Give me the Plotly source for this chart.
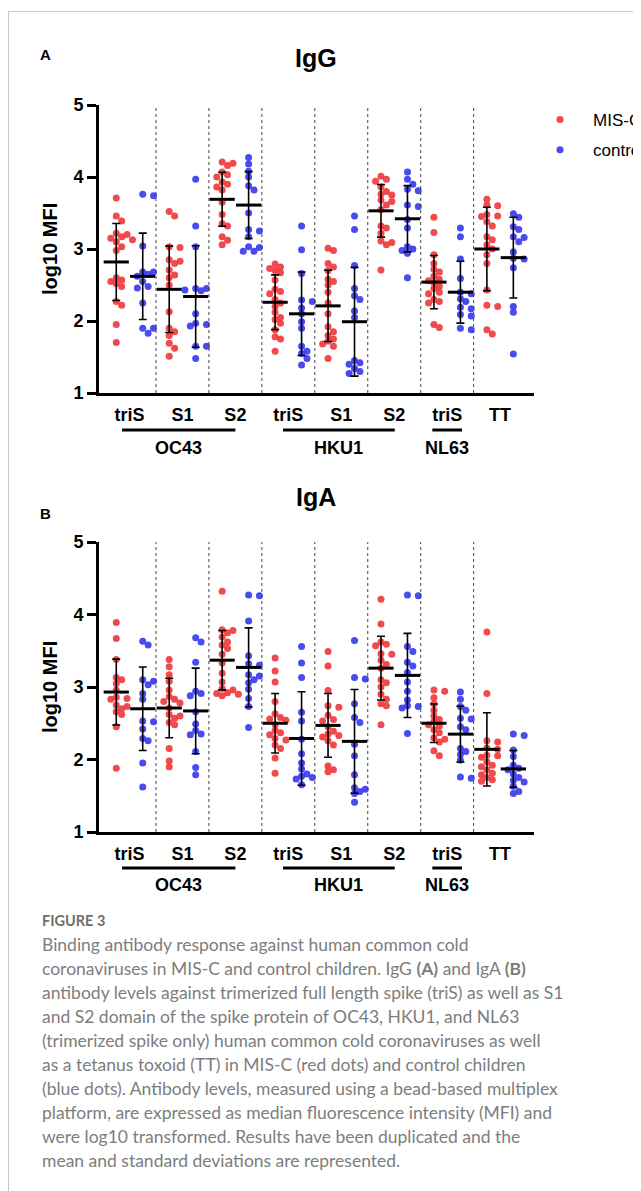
import plotly.graph_objects as go

W, H = 641, 1191

CATEGORIES = ["triS", "S1", "S2", "triS", "S1", "S2", "triS", "TT"]
VIRUSES = ["OC43", "HKU1", "NL63"]

# log10 MFI per column (MIS-C = red, control = blue)
IGG_MISC = [
    [3.71, 3.46, 3.39, 3.22, 3.20, 3.17, 3.15, 3.13, 3.10, 3.03, 2.98, 2.60, 2.57, 2.55, 2.52, 2.48, 2.27, 2.22, 1.95, 1.70],
    [3.52, 3.46, 3.03, 3.02, 2.85, 2.83, 2.80, 2.71, 2.64, 2.60, 2.50, 2.13, 1.90, 1.85, 1.80, 1.69, 1.62, 1.51],
    [4.21, 4.19, 4.16, 4.07, 4.03, 4.00, 3.93, 3.90, 3.86, 3.82, 3.65, 3.48, 3.35, 3.32, 3.17, 3.12, 3.06],
    [2.79, 2.75, 2.73, 2.70, 2.67, 2.57, 2.44, 2.41, 2.38, 2.30, 2.25, 2.20, 2.12, 2.05, 2.02, 1.97, 1.88, 1.78, 1.75, 1.58],
    [3.01, 2.98, 2.80, 2.75, 2.70, 2.58, 2.55, 2.50, 2.40, 2.25, 2.10, 1.92, 1.85, 1.80, 1.75, 1.72, 1.68, 1.65, 1.48],
    [4.01, 3.97, 3.94, 3.86, 3.80, 3.76, 3.75, 3.68, 3.66, 3.61, 3.55, 3.32, 3.29, 3.22, 3.11, 3.09, 3.06, 2.71],
    [3.44, 3.23, 2.92, 2.80, 2.72, 2.68, 2.62, 2.58, 2.56, 2.53, 2.48, 2.45, 2.40, 2.38, 2.30, 2.27, 2.25, 1.95, 1.91],
    [3.69, 3.61, 3.60, 3.48, 3.46, 3.45, 3.38, 3.32, 3.17, 3.13, 3.06, 3.00, 2.92, 2.80, 2.43, 2.22, 2.20, 1.88, 1.82],
]
IGG_CTRL = [
    [3.76, 3.74, 3.04, 2.68, 2.68, 2.65, 2.62, 2.55, 2.48, 2.46, 2.25, 1.90, 1.90, 1.83],
    [3.97, 3.32, 3.03, 2.45, 2.45, 2.43, 2.42, 2.10, 1.97, 1.95, 1.93, 1.65, 1.65, 1.48],
    [4.27, 4.18, 4.08, 4.00, 3.88, 3.82, 3.50, 3.27, 3.25, 3.17, 3.03, 3.02, 2.97, 2.97],
    [3.32, 2.99, 2.66, 2.29, 2.27, 2.18, 2.10, 1.99, 1.90, 1.65, 1.58, 1.55, 1.48, 1.39],
    [3.46, 3.27, 2.77, 2.45, 2.35, 2.30, 2.14, 2.05, 1.45, 1.42, 1.40, 1.34, 1.30, 1.27],
    [4.07, 3.97, 3.90, 3.83, 3.81, 3.61, 3.59, 3.41, 3.29, 3.03, 3.00, 2.98, 2.94, 2.60],
    [3.29, 3.17, 2.86, 2.59, 2.40, 2.38, 2.31, 2.27, 2.19, 2.17, 2.09, 2.07, 1.90, 1.88],
    [3.49, 3.44, 3.31, 3.27, 3.17, 3.16, 3.10, 2.96, 2.87, 2.86, 2.74, 2.20, 2.12, 1.54],
]
IGA_MISC = [
    [3.89, 3.67, 3.38, 3.13, 3.10, 3.05, 2.96, 2.86, 2.84, 2.83, 2.75, 2.73, 2.70, 2.66, 2.62, 2.45, 1.88],
    [3.38, 3.28, 3.17, 3.08, 2.96, 2.87, 2.83, 2.80, 2.78, 2.71, 2.62, 2.60, 2.57, 2.51, 2.48, 2.15, 1.98, 1.90],
    [4.32, 3.79, 3.78, 3.75, 3.69, 3.62, 3.58, 3.53, 3.45, 3.33, 3.19, 3.07, 2.98, 2.96, 2.92, 2.91, 2.90, 2.88],
    [3.40, 3.22, 3.07, 2.80, 2.63, 2.58, 2.56, 2.54, 2.48, 2.40, 2.37, 2.34, 2.29, 2.27, 2.20, 2.15, 2.02, 1.81],
    [3.49, 3.29, 2.95, 2.74, 2.72, 2.61, 2.55, 2.53, 2.45, 2.39, 2.35, 2.33, 2.31, 2.26, 2.20, 1.91, 1.86, 1.83],
    [4.21, 3.87, 3.62, 3.59, 3.57, 3.46, 3.45, 3.37, 3.31, 3.26, 3.10, 3.06, 3.00, 2.90, 2.83, 2.77, 2.74, 2.48],
    [2.96, 2.94, 2.85, 2.77, 2.68, 2.60, 2.55, 2.52, 2.48, 2.46, 2.41, 2.37, 2.30, 2.28, 2.24, 2.12, 2.05],
    [3.76, 2.91, 2.26, 2.24, 2.16, 2.14, 2.06, 2.05, 2.03, 1.97, 1.92, 1.90, 1.86, 1.81, 1.79, 1.75, 1.72, 1.70],
]
IGA_CTRL = [
    [3.63, 3.58, 3.10, 3.08, 3.03, 2.91, 2.83, 2.53, 2.52, 2.42, 2.29, 2.26, 1.95, 1.62],
    [3.68, 3.62, 3.34, 2.94, 2.91, 2.88, 2.66, 2.49, 2.40, 2.35, 2.34, 2.11, 1.89, 1.79],
    [4.27, 4.26, 3.91, 3.43, 3.32, 3.30, 3.17, 3.15, 3.10, 3.06, 2.97, 2.84, 2.73, 2.44],
    [3.56, 3.33, 3.13, 2.65, 2.53, 2.28, 2.08, 1.95, 1.87, 1.80, 1.77, 1.75, 1.73, 1.65],
    [3.64, 3.13, 3.11, 2.77, 2.58, 2.51, 2.21, 2.05, 1.79, 1.61, 1.59, 1.56, 1.53, 1.41],
    [4.27, 4.26, 3.56, 3.49, 3.34, 3.29, 3.20, 3.07, 2.94, 2.82, 2.74, 2.73, 2.71, 2.36],
    [2.93, 2.83, 2.73, 2.68, 2.57, 2.56, 2.45, 2.41, 2.15, 2.11, 2.07, 1.99, 1.76, 1.74],
    [2.35, 2.33, 2.13, 2.04, 1.92, 1.88, 1.86, 1.80, 1.75, 1.71, 1.69, 1.63, 1.56, 1.53],
]

# mean and SD drawn on the figure
IGG_MISC_MEAN = [2.82, 2.44, 3.69, 2.26, 2.21, 3.53, 2.54, 3.00]
IGG_MISC_SD = [0.535, 0.60, 0.375, 0.38, 0.495, 0.365, 0.37, 0.58]
IGG_CTRL_MEAN = [2.62, 2.34, 3.61, 2.10, 1.99, 3.42, 2.40, 2.88]
IGG_CTRL_SD = [0.60, 0.705, 0.465, 0.58, 0.755, 0.46, 0.43, 0.56]
IGA_MISC_MEAN = [2.93, 2.71, 3.37, 2.50, 2.47, 3.26, 2.50, 2.14]
IGA_MISC_SD = [0.455, 0.41, 0.41, 0.41, 0.44, 0.44, 0.265, 0.505]
IGA_CTRL_MEAN = [2.70, 2.67, 3.27, 2.29, 2.25, 3.16, 2.35, 1.87]
IGA_CTRL_SD = [0.575, 0.59, 0.545, 0.645, 0.715, 0.58, 0.385, 0.255]

CAPTION = [
    "Binding antibody response against human common cold",
    "coronaviruses in MIS-C and control children. IgG <b>(A)</b> and IgA <b>(B)</b>",
    "antibody levels against trimerized full length spike (triS) as well as S1",
    "and S2 domain of the spike protein of OC43, HKU1, and NL63",
    "(trimerized spike only) human common cold coronaviruses as well",
    "as a tetanus toxoid (TT) in MIS-C (red dots) and control children",
    "(blue dots). Antibody levels, measured using a bead-based multiplex",
    "platform, are expressed as median fluorescence intensity (MFI) and",
    "were log10 transformed. Results have been duplicated and the",
    "mean and standard deviations are represented.",
]

RED = "#F03B3E"
BLUE = "#3B3BF0"
BOLD = "Liberation Sans, Arial, sans-serif"
CAP_FONT = "Lato, sans-serif"

# page places the plot 8px in (body margin), so layout pixels are shifted by that
PAGE_OFF = 8
X_LEFT, X_RIGHT = 99, 534
X_RANGE = [-0.576, 7.64]
PX_X = (X_RIGHT - X_LEFT) / (X_RANGE[1] - X_RANGE[0])
OFFSET = 0.25
# virus underline extents in category units
SPANS = [(-0.14, 2.0), (2.9, 5.01), (5.72, 6.28)]


def px(x):
    return (x - PAGE_OFF) / W


def py(y):
    return 1 - (y - PAGE_OFF) / H


def swarm(values, center, px_y, d=5.6, step=5.4):
    # simple beeswarm: nudge each dot sideways until it clears the others
    placed, xs = [], []
    cands = [0.0]
    for j in range(1, 12):
        cands += [j * step, -j * step]
    for v in values:
        yp = v * px_y
        off = cands[-1]
        for c in cands:
            if all((c - ox) ** 2 + (yp - oy) ** 2 >= d * d for ox, oy in placed):
                off = c
                break
        placed.append((off, yp))
        xs.append(center + off / PX_X)
    return xs


def label(text, x, y, size, xref="paper", **kw):
    d = dict(text=text, xref=xref, yref="paper", x=x, y=y, showarrow=False,
             xanchor="center", yanchor="middle",
             font=dict(family=BOLD, size=size, color="black", weight="bold"))
    d.update(kw)
    return d


panels = [
    dict(letter="A", title="IgG", misc=IGG_MISC, ctrl=IGG_CTRL,
         misc_mean=IGG_MISC_MEAN, misc_sd=IGG_MISC_SD, ctrl_mean=IGG_CTRL_MEAN, ctrl_sd=IGG_CTRL_SD,
         top=105, bottom=393, letter_y=55, title_y=58, line_y=430, label_y=448),
    dict(letter="B", title="IgA", misc=IGA_MISC, ctrl=IGA_CTRL,
         misc_mean=IGA_MISC_MEAN, misc_sd=IGA_MISC_SD, ctrl_mean=IGA_CTRL_MEAN, ctrl_sd=IGA_CTRL_SD,
         top=542, bottom=832, letter_y=513, title_y=497, line_y=868, label_y=885),
]

fig = go.Figure()
shapes = []
annotations = []

for k, p in enumerate(panels):
    sfx = "" if k == 0 else str(k + 1)
    xa, ya = "x" + sfx, "y" + sfx
    px_y = (p["bottom"] - p["top"]) / 4.0

    for vals, mean, sd, color, name, off in [
        (p["misc"], p["misc_mean"], p["misc_sd"], RED, "MIS-C", -OFFSET),
        (p["ctrl"], p["ctrl_mean"], p["ctrl_sd"], BLUE, "control", OFFSET),
    ]:
        xs, ys = [], []
        for i, col in enumerate(vals):
            xs += swarm(col, i + off, px_y)
            ys += col
        fig.add_trace(go.Scatter(
            x=xs, y=ys, mode="markers", xaxis=xa, yaxis=ya, name=name,
            showlegend=(k == 0), legendgroup=name,
            marker=dict(size=7, color=color, opacity=0.92, line=dict(width=0)),
        ))
        fig.add_trace(go.Scatter(
            x=[i + off for i in range(len(mean))], y=mean, mode="markers",
            xaxis=xa, yaxis=ya, showlegend=False,
            marker=dict(symbol="line-ew", size=18, line=dict(width=3, color="black")),
            error_y=dict(type="data", array=sd, visible=True, color="black", thickness=1.6, width=4),
        ))

    fig.layout["xaxis" + sfx] = dict(
        domain=[px(X_LEFT), px(X_RIGHT)], range=X_RANGE, anchor=ya, automargin=False,
        showgrid=False, zeroline=False, showline=True, linewidth=3, linecolor="black",
        tickmode="array", tickvals=list(range(len(CATEGORIES))), ticktext=CATEGORIES,
        ticks="", ticklabelstandoff=3,
        tickfont=dict(family=BOLD, size=18, color="black", weight="bold"),
    )
    fig.layout["yaxis" + sfx] = dict(
        domain=[py(p["bottom"]), py(p["top"])], range=[1, 5], anchor=xa, automargin=False,
        showgrid=False, zeroline=False, showline=True, linewidth=3, linecolor="black",
        tickmode="linear", tick0=1, dtick=1, ticks="outside", ticklen=9, tickwidth=3,
        tickcolor="black",
        tickfont=dict(family=BOLD, size=18, color="black", weight="bold"),
    )

    # dotted separators between categories
    for i in range(len(CATEGORIES) - 1):
        shapes.append(dict(type="line", xref=xa, yref=ya, x0=i + 0.5, x1=i + 0.5, y0=1, y1=5,
                           line=dict(color="#444444", width=1, dash="dot")))

    # virus underline + label
    for name, (a, b) in zip(VIRUSES, SPANS):
        shapes.append(dict(type="line", xref=xa, yref="paper", x0=a, x1=b,
                           y0=py(p["line_y"]), y1=py(p["line_y"]),
                           line=dict(color="black", width=3)))
        annotations.append(label(name, (a + b) / 2, py(p["label_y"]), 18, xref=xa))

    annotations.append(label(p["title"], px(316), py(p["title_y"]), 25))
    annotations.append(label(p["letter"], px(45), py(p["letter_y"]), 15))
    annotations.append(label("log10 MFI", px(50), py((p["top"] + p["bottom"]) / 2), 20, textangle=-90))

# caption
annotations.append(dict(text="FIGURE 3", xref="paper", yref="paper", x=px(40), y=py(921),
                        xanchor="left", yanchor="middle", showarrow=False,
                        font=dict(family=CAP_FONT, size=14.5, color="#6e6e6e", weight="bold")))
for j, line in enumerate(CAPTION):
    annotations.append(dict(text=line, xref="paper", yref="paper", x=px(40), y=py(944 + 24 * j),
                            xanchor="left", yanchor="middle", showarrow=False,
                            font=dict(family=CAP_FONT, size=17.5, color="#7d7d7d")))

# page frame
shapes.append(dict(type="line", xref="paper", yref="paper", x0=px(8.5), x1=1, y0=py(11.5), y1=py(11.5),
                   line=dict(color="#c8c8c8", width=1)))
shapes.append(dict(type="line", xref="paper", yref="paper", x0=px(8.5), x1=px(8.5), y0=py(11.5), y1=0,
                   line=dict(color="#c8c8c8", width=1)))

fig.update_layout(
    template="none",
    width=W, height=H, margin=dict(l=0, r=0, t=0, b=0, autoexpand=False),
    paper_bgcolor="white", plot_bgcolor="white",
    shapes=shapes, annotations=annotations,
    legend=dict(x=px(527), y=py(102), xanchor="left", yanchor="top", itemwidth=56,
                font=dict(family=BOLD, size=17, color="black"), bgcolor="rgba(0,0,0,0)",
                traceorder="grouped", tracegroupgap=5),
)

fig.write_html("out.html")
